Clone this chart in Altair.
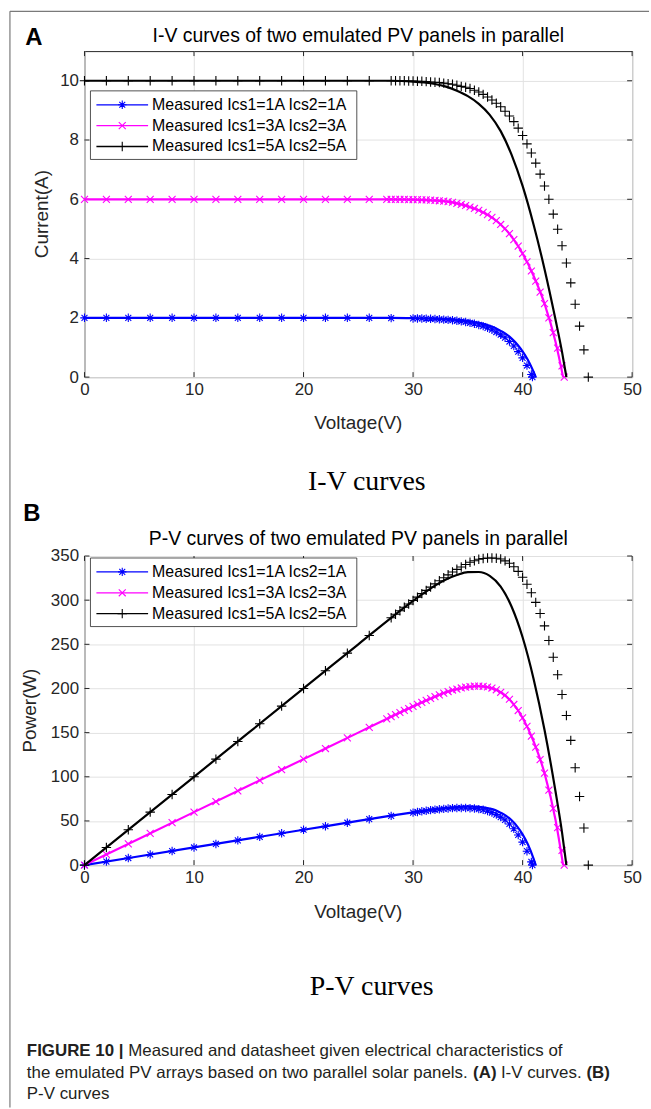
import altair as alt
import pandas as pd

FONT = "Liberation Sans"
SERIF = "Liberation Serif"

# ---------------- texts ----------------
panel_titles = ["I-V curves of two emulated PV panels in parallel",
                "P-V curves of two emulated PV panels in parallel"]
panel_letters = ["A", "B"]
sub_captions = ["I-V curves", "P-V curves"]
y_titles = ["Current(A)", "Power(W)"]
x_title = "Voltage(V)"
series_labels = ["Measured Ics1=1A Ics2=1A",
                 "Measured Ics1=3A Ics2=3A",
                 "Measured Ics1=5A Ics2=5A"]
series_colors = ["#0000ff", "#ff00ff", "#000000"]

# ---------------- ticks ----------------
x_ticks = [0, 10, 20, 30, 40, 50]
iv_ticks = [0, 2, 4, 6, 8, 10]
pv_ticks = [0, 50, 100, 150, 200, 250, 300, 350]

# ---------------- model (solid) curves: voltage (V) / current (A) ----------------
model1_v = [0, 10, 20, 25, 28, 30, 31, 32, 33, 34, 35, 36, 37, 37.5, 38, 38.5, 39, 39.5, 40, 40.5, 41, 41.2]
model1_i = [2.0, 2.0, 2.0, 2.0, 2.0, 1.99, 1.98, 1.975, 1.96, 1.935, 1.9, 1.83, 1.73, 1.66, 1.56, 1.45, 1.3, 1.11, 0.87, 0.57, 0.18, 0.0]

model2_v = [0, 10, 20, 25, 28, 30, 32, 33, 34, 35, 36, 37, 38, 39, 40, 41, 42, 43, 43.7]
model2_i = [6.0, 6.0, 6.0, 6.0, 6.0, 5.99, 5.96, 5.93, 5.86, 5.76, 5.63, 5.43, 5.15, 4.74, 4.17, 3.42, 2.48, 1.2, 0.0]

model3_v = [0, 10, 20, 25, 28, 30, 31, 32, 33, 34, 35, 36, 37, 38, 39, 40, 41, 42, 43, 43.6, 44]
model3_i = [10.0, 10.0, 10.0, 10.0, 10.0, 9.97, 9.94, 9.89, 9.8, 9.66, 9.48, 9.22, 8.85, 8.3, 7.5, 6.45, 5.15, 3.65, 1.95, 0.85, 0.0]

# ---------------- measured points ----------------
meas1_v = [0, 2, 4, 6, 8, 10, 12, 14, 16, 18, 20, 22, 24, 26, 28, 30,
           30.4, 30.8, 31.2, 31.6, 32.0, 32.4, 32.8, 33.2, 33.6, 34.0, 34.4, 34.8, 35.2, 35.6,
           36.0, 36.4, 36.8, 37.2, 37.6, 38.0, 38.4, 38.8, 39.2, 39.6, 40.0, 40.4, 40.8, 40.9]
meas1_i = [2.0, 2.0, 2.0, 2.0, 2.0, 2.0, 2.0, 2.0, 2.0, 2.0, 2.0, 2.0, 2.0, 2.0, 1.99, 1.98,
           1.98, 1.98, 1.97, 1.97, 1.96, 1.95, 1.94, 1.93, 1.92, 1.90, 1.88, 1.86, 1.83, 1.80,
           1.76, 1.72, 1.66, 1.60, 1.52, 1.43, 1.33, 1.20, 1.05, 0.86, 0.65, 0.39, 0.09, 0.0]

meas2_v = [0, 2, 4, 6, 8, 10, 12, 14, 16, 18, 20, 22, 24, 26,
           27.6, 28.0, 28.4, 28.8, 29.2, 29.6, 30.0, 30.4, 30.8, 31.2, 31.6, 32.0, 32.4, 32.8,
           33.2, 33.6, 34.0, 34.4, 34.8, 35.2, 35.6, 36.0, 36.4, 36.8, 37.2, 37.6, 38.0, 38.4,
           38.8, 39.2, 39.6, 40.0, 40.4, 40.8, 41.2, 41.6, 42.0, 42.4, 42.8, 43.2, 43.6, 43.8]
meas2_i = [6.0, 6.0, 6.0, 6.0, 6.0, 6.0, 6.0, 6.0, 6.0, 6.0, 6.0, 6.0, 6.0, 6.0,
           6.0, 6.0, 6.0, 6.0, 6.0, 5.99, 5.99, 5.99, 5.98, 5.98, 5.97, 5.96, 5.95, 5.94,
           5.92, 5.90, 5.86, 5.83, 5.79, 5.74, 5.69, 5.63, 5.56, 5.48, 5.39, 5.28, 5.15, 5.01,
           4.84, 4.64, 4.42, 4.17, 3.89, 3.58, 3.24, 2.87, 2.48, 2.00, 1.50, 0.98, 0.38, 0.0]

meas3_v = [0, 2, 4, 6, 8, 10, 12, 14, 16, 18, 20, 22, 24, 26,
           28.0, 28.4, 28.8, 29.2, 29.6, 30.0, 30.4, 30.8, 31.2, 31.6, 32.0, 32.4, 32.8, 33.2,
           33.6, 34.0, 34.4, 34.8, 35.2, 35.6, 36.0, 36.4, 36.8, 37.2, 37.6, 38.0, 38.4, 38.8,
           39.2, 39.6, 40.0, 40.4, 40.8, 41.2, 41.6, 42.0, 42.4, 42.8, 43.2, 43.6, 44.0, 44.4,
           44.8, 45.2, 45.6, 46.0]
meas3_i = [10.0, 10.0, 10.0, 10.0, 10.0, 10.0, 10.0, 10.0, 10.0, 10.0, 10.0, 10.0, 10.0, 10.0,
           10.0, 10.0, 10.0, 10.0, 9.99, 9.99, 9.98, 9.98, 9.97, 9.96, 9.95, 9.94, 9.92, 9.90,
           9.88, 9.85, 9.81, 9.78, 9.74, 9.68, 9.62, 9.54, 9.45, 9.35, 9.24, 9.12, 8.97, 8.81,
           8.62, 8.40, 8.15, 7.87, 7.56, 7.22, 6.85, 6.45, 6.00, 5.50, 4.99, 4.43, 3.85, 3.18,
           2.46, 1.72, 0.92, 0.0]

model_v = [model1_v, model2_v, model3_v]
model_i = [model1_i, model2_i, model3_i]
meas_v = [meas1_v, meas2_v, meas3_v]
meas_i = [meas1_i, meas2_i, meas3_i]

# caption pieces: (text, bold, line)
caption_parts = [
    ("FIGURE 10 |", True, 0),
    ("Measured and datasheet given electrical characteristics of", False, 0),
    ("the emulated PV arrays based on two parallel solar panels.", False, 1),
    ("(A)", True, 1),
    ("I-V curves.", False, 1),
    ("(B)", True, 1),
    ("P-V curves", False, 2),
]
caption_x = [-58, 44, -58, 391, 419, 505, -58]

# ---------------- styling ----------------
STAR = "M-1,0L1,0M0,-1L0,1M-0.7,-0.7L0.7,0.7M-0.7,0.7L0.7,-0.7"
XMARK = "M-1,-1L1,1M-1,1L1,-1"
PLUS = "M-1,0L1,0M0,-1L0,1"
marker_paths = [STAR, XMARK, PLUS]
marker_sizes = [72, 49, 90]

W = 551
HEIGHTS = [328, 311]
DARK = "#262626"
GRID = "#e2e2e2"


def text_layer(s, x, y, size, font=FONT, weight="normal", align="center",
               angle=0, color="#000000", baseline="middle"):
    df = pd.DataFrame({"t": [s]})
    kw = dict(align=align, baseline=baseline, font=font, fontSize=size,
              fontWeight=weight, color=color)
    if angle:
        kw["angle"] = angle
    return alt.Chart(df).mark_text(**kw).encode(
        x=alt.value(x), y=alt.value(y), text="t:N")


def panel(idx):
    yf = ["I", "P"][idx]
    ydom = [[0, 11], [0, 350]][idx]
    yt = [iv_ticks, pv_ticks][idx]
    H = HEIGHTS[idx]
    xs = alt.Scale(domain=[0, 50], nice=False, zero=False)
    ys = alt.Scale(domain=ydom, nice=False, zero=False)
    xa = alt.Axis(values=x_ticks, grid=True, gridColor=GRID, gridWidth=1,
                  domain=False, ticks=False, labelFont=FONT, labelFontSize=17,
                  labelColor=DARK, labelPadding=5, labelFlush=False,
                  labelOverlap=False, format="d")
    ya = alt.Axis(values=yt, grid=True, gridColor=GRID, gridWidth=1,
                  domain=False, ticks=False, labelFont=FONT, labelFontSize=17,
                  labelColor=DARK, labelPadding=6, labelFlush=False,
                  labelOverlap=False, format="d")

    def X():
        return alt.X("V:Q", scale=xs, axis=xa, title=None)

    def Y():
        return alt.Y(f"{yf}:Q", scale=ys, axis=ya, title=None)

    layers = []
    # inward tick marks on all four sides
    xt_df = pd.DataFrame({"V": x_ticks})
    yt_df = pd.DataFrame({yf: yt})
    layers.append(alt.Chart(xt_df).mark_rule(color=DARK, strokeWidth=1).encode(
        x=X(), y=alt.value(H), y2=alt.value(H - 5)))
    layers.append(alt.Chart(xt_df).mark_rule(color=DARK, strokeWidth=1).encode(
        x=X(), y=alt.value(0), y2=alt.value(5)))
    layers.append(alt.Chart(yt_df).mark_rule(color=DARK, strokeWidth=1).encode(
        y=Y(), x=alt.value(0), x2=alt.value(5)))
    layers.append(alt.Chart(yt_df).mark_rule(color=DARK, strokeWidth=1).encode(
        y=Y(), x=alt.value(W - 5), x2=alt.value(W)))

    # curves + measured markers
    for k in range(3):
        ldf = pd.DataFrame({"V": model_v[k], "I": model_i[k]})
        mdf = pd.DataFrame({"V": meas_v[k], "I": meas_i[k]})
        lc = alt.Chart(ldf).mark_line(color=series_colors[k], strokeWidth=2.2,
                                      interpolate="monotone")
        mc = alt.Chart(mdf).mark_point(shape=marker_paths[k], size=marker_sizes[k],
                                       filled=False, color=series_colors[k],
                                       strokeWidth=1.1, opacity=1)
        if yf == "P":
            lc = lc.transform_calculate(P="datum.V * datum.I")
            mc = mc.transform_calculate(P="datum.V * datum.I")
        layers.append(lc.encode(x=X(), y=Y()))
        layers.append(mc.encode(x=X(), y=Y()))

    # legend box
    if idx == 0:
        box_top, rows = 40, [54, 75, 96]
    else:
        box_top, rows = 2, [16, 37, 58]
    box_bottom = box_top + 69
    one = pd.DataFrame({"t": [""]})
    layers.append(alt.Chart(one).mark_rect(fill="white", stroke=DARK, strokeWidth=0.8).encode(
        x=alt.value(6), x2=alt.value(274), y=alt.value(box_top), y2=alt.value(box_bottom)))
    for k in range(3):
        rdf = pd.DataFrame({"label": [series_labels[k]]})
        layers.append(alt.Chart(rdf).mark_rule(color=series_colors[k], strokeWidth=1.3).encode(
            x=alt.value(12), x2=alt.value(64), y=alt.value(rows[k])))
        layers.append(alt.Chart(rdf).mark_point(shape=marker_paths[k], size=marker_sizes[k],
                                                filled=False, color=series_colors[k],
                                                strokeWidth=1.1, opacity=1).encode(
            x=alt.value(38), y=alt.value(rows[k])))
        layers.append(alt.Chart(rdf).mark_text(align="left", baseline="middle", font=FONT,
                                               fontSize=16, color="#000000").encode(
            x=alt.value(68), y=alt.value(rows[k]), text="label:N"))

    # texts around the plot
    if idx == 0:
        layers.append(text_layer(panel_letters[0], -51, -13, 24, weight="bold"))
        layers.append(text_layer(panel_titles[0], W / 2, -15, 19.5))
        layers.append(text_layer(x_title, W / 2, H + 46, 19, color=DARK))
        layers.append(text_layer(y_titles[0], -43, H / 2, 19, angle=270, color=DARK))
        layers.append(text_layer(sub_captions[0], 284, H + 106, 28, font=SERIF))
        # outer frame (left and top border)
        layers.append(alt.Chart(one).mark_rule(color="#7a7a7a", strokeWidth=1.2).encode(
            x=alt.value(-75), y=alt.value(-40), y2=alt.value(1063)))
        layers.append(alt.Chart(one).mark_rule(color="#7a7a7a", strokeWidth=1.2).encode(
            x=alt.value(-75), x2=alt.value(568), y=alt.value(-40)))
    else:
        layers.append(text_layer(panel_letters[1], -53, -42, 24, weight="bold"))
        layers.append(text_layer(panel_titles[1], W / 2, -17, 19.5))
        layers.append(text_layer(x_title, W / 2, H + 47, 19, color=DARK))
        layers.append(text_layer(y_titles[1], -55, H / 2, 19, angle=270, color=DARK))
        layers.append(text_layer(sub_captions[1], 289, H + 123, 28, font=SERIF))
        line_y = [498, 520, 541]
        for (s, bold, ln), cx in zip(caption_parts, caption_x):
            layers.append(text_layer(s, cx, line_y[ln], 17,
                                     weight="bold" if bold else "normal",
                                     align="left", color="#231f20"))

    return alt.layer(*layers).properties(width=W, height=H)


chart = alt.vconcat(panel(0), panel(1), spacing=180, bounds="flush").properties(
    padding={"left": 8, "top": 6, "right": 0, "bottom": 0}
).configure_view(stroke=DARK, strokeWidth=1)

chart.save("out.html", embed_options={"renderer": "svg", "actions": False})
